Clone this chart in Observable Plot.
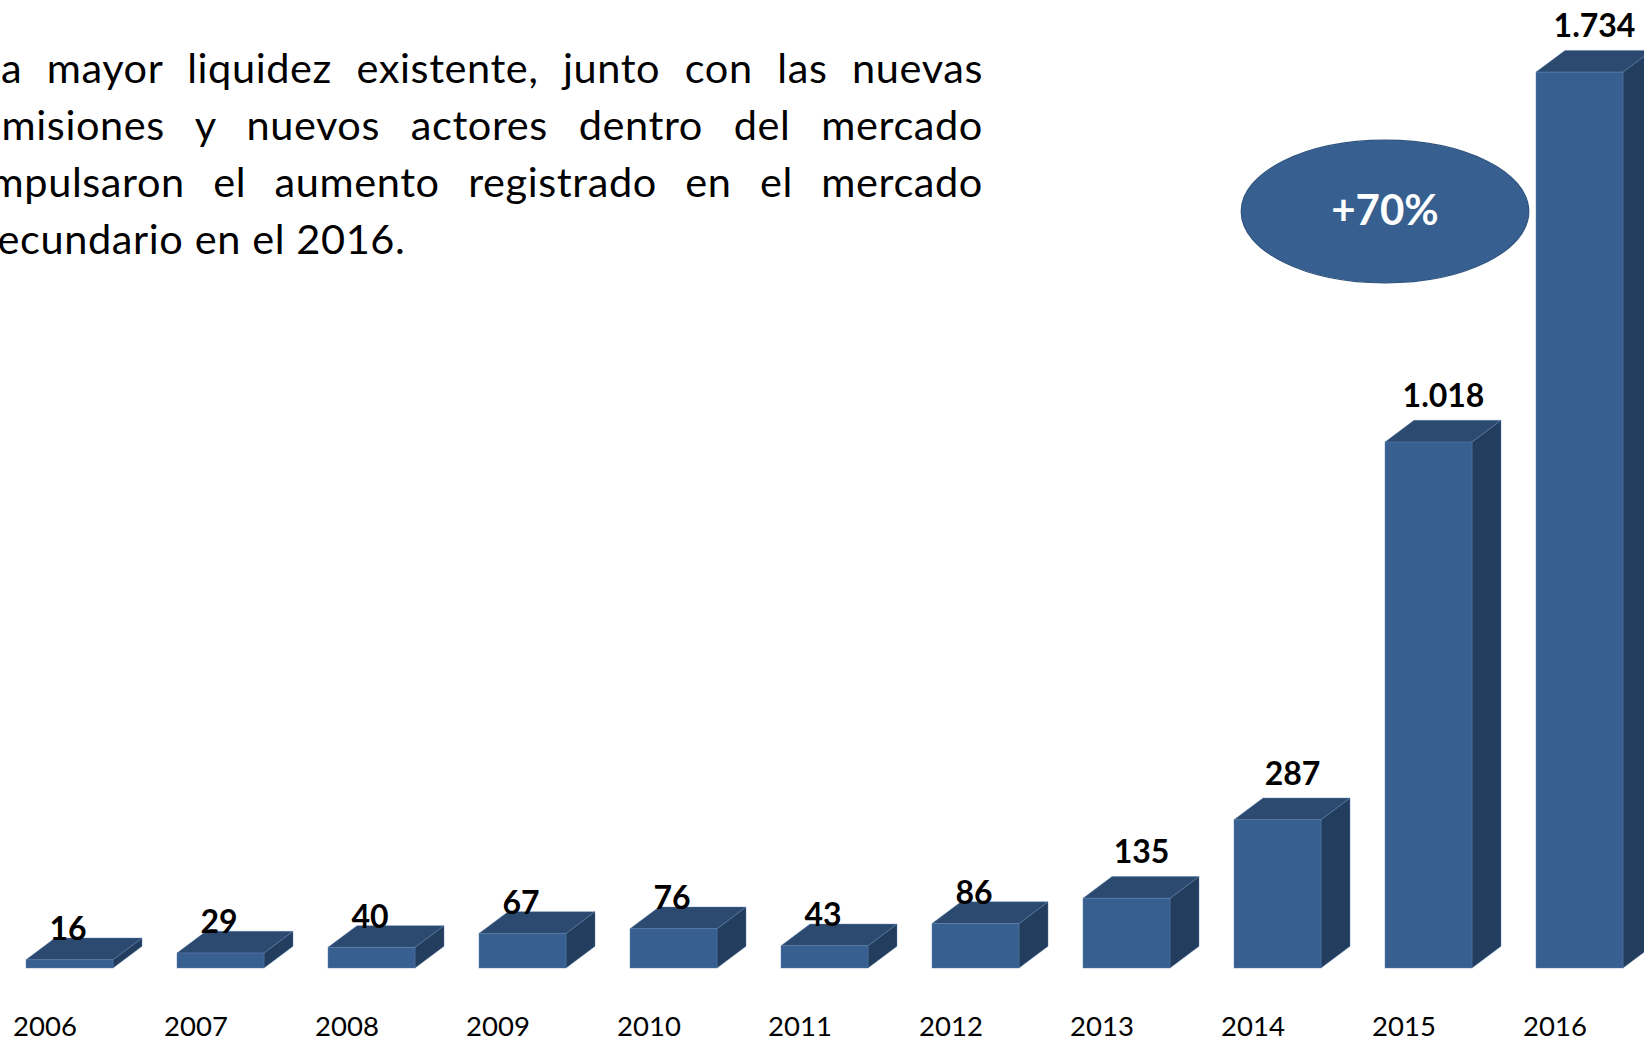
<!DOCTYPE html>
<html>
<head>
<meta charset="utf-8">
<script src="https://cdn.jsdelivr.net/npm/d3@7"></script>
<script src="https://cdn.jsdelivr.net/npm/@observablehq/plot@0.6"></script>
<style>
  html, body { margin: 0; padding: 0; background: #fff; }
  #wrap { position: relative; width: 1644px; height: 1038px; overflow: hidden; background: #fff; }
  #chart { position: absolute; left: 0; top: 0; }
  #para { position: absolute; left: 0; top: 39px; width: 983px; overflow: hidden; }
  #para .inner { margin-left: -21px; width: 1004px; font-family: Lato, sans-serif; font-size: 41.5px; letter-spacing: 0.6px; line-height: 57px; color: #000; }
  #para .ln { white-space: nowrap; text-align: justify; text-align-last: justify; }
  #para .ln.last { text-align-last: left; }
</style>
</head>
<body>
<div id="wrap">
  <div id="chart"></div>
  <div id="para"><div class="inner"></div></div>
</div>
<script>
// ---- data ----
const years = ["2006", "2007", "2008", "2009", "2010", "2011", "2012", "2013", "2014", "2015", "2016"];
const values = [16, 29, 40, 67, 76, 43, 86, 135, 287, 1018, 1734];
const paragraphLines = [
  "La mayor liquidez existente, junto con las nuevas",
  "emisiones y nuevos actores dentro del mercado",
  "impulsaron el aumento registrado en el mercado",
  "secundario en el 2016."
];

// ---- paragraph ----
const inner = document.querySelector("#para .inner");
paragraphLines.forEach((t, i) => {
  const d = document.createElement("div");
  d.className = "ln" + (i === paragraphLines.length - 1 ? " last" : "");
  d.textContent = t;
  inner.appendChild(d);
});

// ---- chart ----
const rows = years.map((year, i) => ({year, value: values[i]}));
const FRONT = "#376091", TOP = "#2c4a70", SIDE = "#233d5e", EDGE = "#5a7eab";
const DX = 29, DY = 21.7;
const es = d3.formatLocale({decimal: ",", thousands: ".", grouping: [3], currency: ["", ""]});
const fmt = es.format(",");
const growth = values[values.length - 1] / values[values.length - 2] - 1;

function face(kind, fill) {
  return Plot.barY(rows, {
    x: "year", y: "value",
    render(index, scales) {
      const {x, y} = scales;
      const bw = x.bandwidth();
      const y0 = y(0);
      const g = d3.create("svg:g");
      g.selectAll("path").data(index).join("path")
        .attr("fill", fill)
        .attr("stroke", EDGE).attr("stroke-width", 0.8).attr("stroke-opacity", 0.55)
        .attr("stroke-linejoin", "round")
        .attr("d", i => {
          const xl = x(rows[i].year), xr = xl + bw, yt = y(rows[i].value);
          if (kind === "top") return `M${xl},${yt}L${xl + DX},${yt - DY}L${xr + DX},${yt - DY}L${xr},${yt}Z`;
          return `M${xr},${yt}L${xr + DX},${yt - DY}L${xr + DX},${y0 - DY}L${xr},${y0}Z`;
        });
      return g.node();
    }
  });
}

const k = 0.5523;
const ellipse = {
  draw(ctx) {
    const rx = 143.8, ry = 71.3;
    ctx.moveTo(rx, 0);
    ctx.bezierCurveTo(rx, ry * k, rx * k, ry, 0, ry);
    ctx.bezierCurveTo(-rx * k, ry, -rx, ry * k, -rx, 0);
    ctx.bezierCurveTo(-rx, -ry * k, -rx * k, -ry, 0, -ry);
    ctx.bezierCurveTo(rx * k, -ry, rx, -ry * k, rx, 0);
    ctx.closePath();
  }
};
const annoYear = years[years.length - 2];

const chart = Plot.plot({
  width: 1644,
  height: 1038,
  marginTop: 38,
  marginBottom: 70,
  marginLeft: 22,
  marginRight: 17.7,
  x: {domain: years, paddingInner: 0.4245, paddingOuter: 0, axis: null, label: null},
  y: {domain: [0, 1800], axis: null},
  style: {fontFamily: "Lato, sans-serif", background: "transparent", color: "#000", overflow: "visible"},
  marks: [
    face("side", SIDE),
    face("top", TOP),
    Plot.barY(rows, {x: "year", y: "value", fill: FRONT, stroke: EDGE, strokeWidth: 0.8, strokeOpacity: 0.55}),
    Plot.text(rows.filter(d => d.value < 100), {
      x: "year", y: "value", text: d => fmt(d.value),
      lineAnchor: "bottom", dx: -2, dy: -(DY - 1.5), fontSize: 32, fontWeight: "bold", fill: "#000"
    }),
    Plot.text(rows.filter(d => d.value >= 100), {
      x: "year", y: "value", text: d => fmt(d.value),
      lineAnchor: "bottom", dx: DX / 2, dy: -(DY + 14), fontSize: 32, fontWeight: "bold", fill: "#000"
    }),
    Plot.axisX({tickSize: 0, tickPadding: 48, dx: -25, fontSize: 27.5, fill: "#000", label: null}),
    Plot.dot([growth], {x: () => annoYear, frameAnchor: "top", dx: -44, dy: 173, symbol: ellipse, fill: FRONT, stroke: "#30547f", strokeWidth: 1.2}),
    Plot.text([growth], {x: () => annoYear, frameAnchor: "top", dx: -44, dy: 173, text: d => d3.format("+.0%")(d), fill: "#fff", fontSize: 42, fontWeight: "bold", lineAnchor: "middle"})
  ]
});
document.getElementById("chart").appendChild(chart);
</script>
</body>
</html>
